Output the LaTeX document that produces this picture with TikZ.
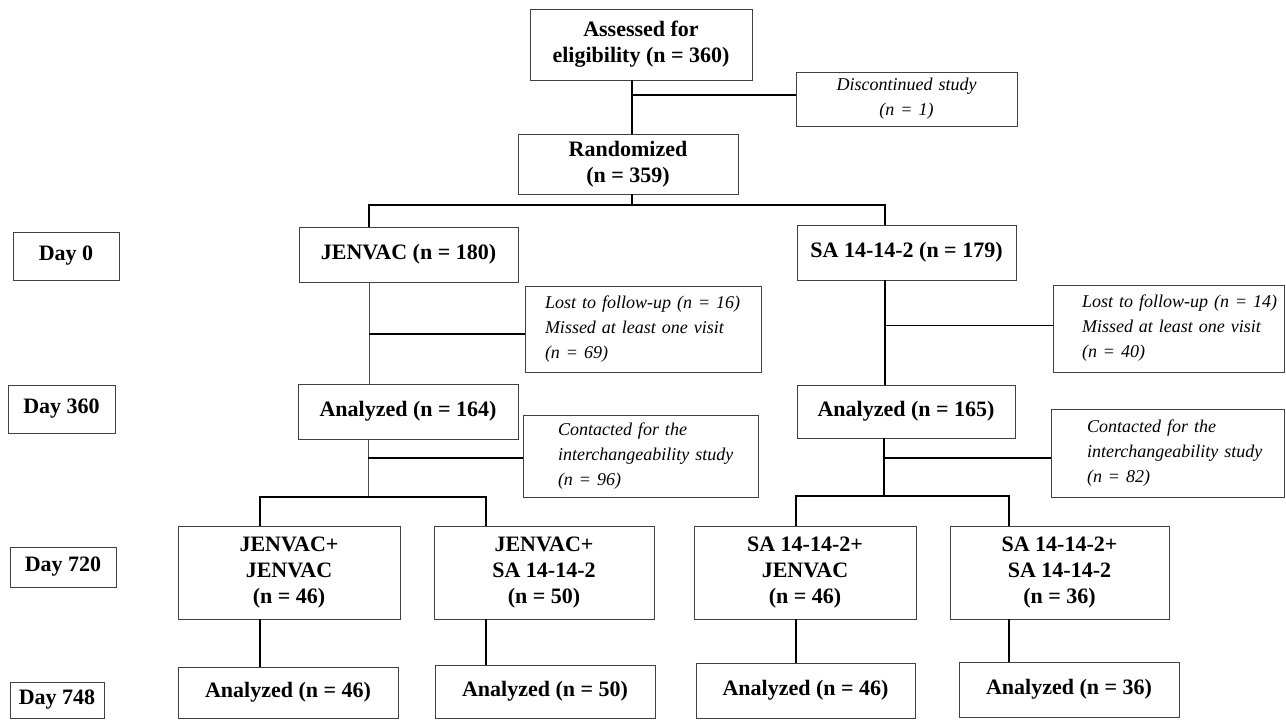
\documentclass[tikz,border=0pt]{standalone}
\usepackage{fontspec}
\setmainfont{Liberation Serif}
\usepackage{tikz}
\usetikzlibrary{calc}

\begin{document}
\begin{tikzpicture}[x=1pt,y=-1pt,
box/.style={draw=black!75,line width=0.9pt,align=center,inner sep=0pt,
font=\bfseries\fontsize{22}{26}\selectfont},
note/.style={draw=black!75,line width=0.9pt,align=left,inner xsep=2pt,inner ysep=0pt,
font=\itshape\fontsize{18}{25}\selectfont},
link/.style={line width=1.3pt},
thin link/.style={line width=0.8pt,black!70}]
\useasboundingbox (0,0) rectangle (1286,720);

\node[box,minimum width=222pt,minimum height=71pt] (elig) at (641,44.5) {Assessed for\\eligibility (n = 360)};
\node[note,align=center,text width=217pt,minimum height=54pt] (disc) at (906.5,99) {Discontinued study\\(n = 1)};
\node[box,minimum width=220pt,minimum height=60pt] (rand) at (628,164) {Randomized\\(n = 359)};

\node[box,minimum width=219pt,minimum height=55pt] (jv) at (408.5,254.5) {JENVAC (n = 180)};
\node[box,minimum width=219pt,minimum height=55pt] (sa) at (906.5,252.5) {SA 14-14-2 (n = 179)};
\node[note,text width=232pt,minimum height=86pt,execute at begin node={\leftskip=18pt}] (lostjv) at (643,329)
{Lost to follow-up (n = 16)\\Missed at least one visit\\(n = 69)};
\node[note,text width=227pt,minimum height=87pt,execute at begin node={\leftskip=27pt}] (lostsa) at (1168.5,328.5)
{Lost to follow-up (n = 14)\\Missed at least one visit\\(n = 40)};

\node[box,minimum width=220pt,minimum height=55pt] (anjv) at (408,411.5) {Analyzed (n = 164)};
\node[box,minimum width=218pt,minimum height=53pt] (ansa) at (906,411.5) {Analyzed (n = 165)};
\node[note,text width=231pt,minimum height=82pt,execute at begin node={\leftskip=33pt}] (conjv) at (640.5,456)
{Contacted for the\\interchangeability study\\(n = 96)};
\node[note,text width=229pt,minimum height=88pt,execute at begin node={\leftskip=34pt}] (consa) at (1167.5,453)
{Contacted for the\\interchangeability study\\(n = 82)};

\node[box,minimum width=222pt,minimum height=93pt] (jvjv) at (289,572.5) {JENVAC+\\JENVAC\\(n = 46)};
\node[box,minimum width=220pt,minimum height=93pt] (jvsa) at (544,572.5) {JENVAC+\\SA 14-14-2\\(n = 50)};
\node[box,minimum width=222pt,minimum height=93pt] (sajv) at (805,572.5) {SA 14-14-2+\\JENVAC\\(n = 46)};
\node[box,minimum width=219pt,minimum height=93pt] (sasa) at (1059.5,572.5) {SA 14-14-2+\\SA 14-14-2\\(n = 36)};

\node[box,minimum width=220pt,minimum height=51pt] (an1) at (288,692.5) {Analyzed (n = 46)};
\node[box,minimum width=220pt,minimum height=53pt] (an2) at (545,691.5) {Analyzed (n = 50)};
\node[box,minimum width=219pt,minimum height=55pt] (an3) at (805.5,690.5) {Analyzed (n = 46)};
\node[box,minimum width=220pt,minimum height=55pt] (an4) at (1069,689.5) {Analyzed (n = 36)};

\node[box,minimum width=106pt,minimum height=48pt] (d0) at (66,256) {Day 0};
\node[box,minimum width=107pt,minimum height=48pt] (d360) at (61.5,409) {Day 360};
\node[box,minimum width=106pt,minimum height=40pt] (d720) at (63,567) {Day 720};
\node[box,minimum width=94pt,minimum height=36pt] (d748) at (57,700) {Day 748};

\coordinate (s0) at (632,205);
\coordinate (jx) at (369,0);
\coordinate (sx) at (885,0);
\coordinate (s1) at (368,497);
\coordinate (s2) at (884,496);
\coordinate (ax) at (260,0);
\coordinate (bx) at (486,0);
\coordinate (cx) at (796,0);
\coordinate (dx) at (1009,0);

\draw[link] (elig.south -| s0) -- (rand.north -| s0);
\draw[link] ([yshift=4pt]disc.west) -- ([yshift=4pt]disc.west -| s0);
\draw[link] (rand.south -| s0) -- (s0);
\draw[link] (jv.north -| jx) |- (s0) -| (sa.north -| sx);

\draw[thin link] (jv.south -| jx) -- (anjv.north -| jx);
\draw[link] ([yshift=-5pt]lostjv.west) -- ([yshift=-5pt]lostjv.west -| jx);
\draw[link] (sa.south -| sx) -- (ansa.north -| sx);
\draw[link] ([yshift=3pt]lostsa.west) -- ([yshift=3pt]lostsa.west -| sx);

\draw[thin link] (anjv.south -| s1) -- (s1);
\draw[link] ([yshift=-2pt]conjv.west) -- ([yshift=-2pt]conjv.west -| s1);
\draw[link] (jvjv.north -| ax) |- (s1) -| (jvsa.north -| bx);
\draw[link] (ansa.south -| s2) -- (s2);
\draw[link] ([yshift=-5pt]consa.west) -- ([yshift=-5pt]consa.west -| s2);
\draw[link] (sajv.north -| cx) |- (s2) -| (sasa.north -| dx);

\draw[link] (jvjv.south -| ax) -- (an1.north -| ax);
\draw[link] (jvsa.south -| bx) -- (an2.north -| bx);
\draw[link] (sajv.south -| cx) -- (an3.north -| cx);
\draw[link] (sasa.south -| dx) -- (an4.north -| dx);
\end{tikzpicture}
\end{document}
